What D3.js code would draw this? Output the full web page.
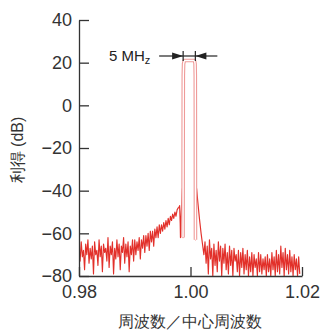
<!DOCTYPE html>
<html>
<head>
<meta charset="utf-8">
<script src="https://cdn.jsdelivr.net/npm/d3@7"></script>
<style>
  html, body { margin: 0; padding: 0; background: #fff; }
  svg { display: block; font-family: "Liberation Sans", Arial, sans-serif; }
  .axis path, .axis line { stroke: #333; stroke-width: 1.3; }
  .axis text { fill: #333; font-size: 18px; font-family: "Liberation Sans", Arial, sans-serif; }
</style>
</head>
<body>
<svg id="svg" width="322" height="331"></svg>
<script>
// sampling grid of the noise parts
const freqStep = 0.0002;
const leftStart = 0.9800;
const rightStart = 1.0026;

// gain (dB) below the band, 0.9800 .. 0.9978
const leftNoise = [
  -66,-73,-64,-71,-68,-77,-65,-70,-63,-74,
  -67,-72,-66,-79,-64,-70,-68,-75,-63,-71,
  -66,-78,-65,-69,-67,-73,-62,-76,-66,-70,
  -64,-79,-67,-72,-63,-71,-65,-77,-66,-69,
  -62,-74,-65,-71,-64,-78,-66,-70,-63,-73,
  -63,-70,-64,-68,-62,-72,-63,-67,-61,-69,
  -61,-66,-60,-68,-59,-64,-59,-66,-58,-62,
  -57,-62,-56,-60,-56,-59,-55,-58,-54,-57,
  -53,-56,-52,-54,-51,-53,-50,-52,-49,-48
];

// spur just below the band [freq, dB]
const leftSpur = [
  [0.9979, -48], [0.99805, -47], [0.99815, -55], [0.9982, -62],
  [0.99835, -50], [0.99855, -39], [0.9986, -44], [0.99866, -40]
];

// passband (5 MHz wide) [freq, dB]
const passband = [
  [0.99866, -62], [0.99868, -30], [0.9987, 0], [0.99871, 14],
  [0.99876, 19.5], [0.9989, 21], [0.9995, 21], [1.0000, 21], [1.0005, 21],
  [1.00071, 21], [1.00082, 19.5], [1.00086, 14], [1.00087, 0],
  [1.00088, -30], [1.00089, -63]
];

// spur just above the band [freq, dB]
const rightSpur = [
  [1.0009, -62], [1.0010, -50], [1.0011, -39], [1.0013, -45],
  [1.0016, -53], [1.0019, -60], [1.0022, -66], [1.0024, -70]
];

// gain (dB) above the band, 1.0026 .. 1.0196
const rightNoise = [
  -64,-74,-66,-79,-63,-72,-67,-80,-65,-75,
  -68,-78,-64,-73,-66,-80,-67,-74,-65,-77,
  -69,-79,-66,-75,-68,-80,-67,-73,-70,-78,
  -68,-80,-69,-76,-67,-79,-70,-77,-68,-80,
  -71,-78,-69,-80,-70,-76,-72,-80,-69,-78,
  -70,-79,-72,-77,-71,-80,-70,-78,-72,-80,
  -69,-77,-71,-80,-68,-78,-70,-79,-66,-76,
  -69,-80,-67,-77,-70,-79,-68,-78,-71,-80,
  -70,-77,-72,-80,-71,-79
];

const xTicks = [0.98, 1.00, 1.02];
const yTicks = [40, 20, 0, -20, -40, -60, -80];
const bandEdges = [0.99868, 1.00087];

const svg = d3.select('#svg');

const x = d3.scaleLinear().domain([0.98, 1.02]).range([79, 302]);
const y = d3.scaleLinear().domain([-80, 40]).range([276, 20]);

// whole trace in order
const trace = []
  .concat(leftNoise.map((v, i) => [leftStart + i * freqStep, v]))
  .concat(leftSpur)
  .concat(passband)
  .concat(rightSpur)
  .concat(rightNoise.map((v, i) => [rightStart + i * freqStep, v]));

svg.append('defs').append('clipPath').attr('id', 'plot')
  .append('rect').attr('x', 79).attr('y', 0).attr('width', 223).attr('height', 276);

const line = d3.line().x(d => x(d[0])).y(d => y(d[1]));

const g = svg.append('g').attr('clip-path', 'url(#plot)');

g.append('path')
  .datum(trace)
  .attr('d', line)
  .attr('fill', 'none')
  .attr('stroke', '#e2302a')
  .attr('stroke-width', 1.15)
  .attr('stroke-linejoin', 'round');

// passband drawn as a thin pink tube
g.append('path')
  .datum(passband)
  .attr('d', line)
  .attr('fill', 'none')
  .attr('stroke', '#ef9a98')
  .attr('stroke-width', 3.6)
  .attr('stroke-linejoin', 'round');
g.append('path')
  .datum(passband)
  .attr('d', line)
  .attr('fill', 'none')
  .attr('stroke', '#fff')
  .attr('stroke-width', 1.4)
  .attr('stroke-linejoin', 'round');

// axes
svg.append('g')
  .attr('class', 'axis')
  .attr('transform', 'translate(79,0)')
  .call(d3.axisLeft(y).tickValues(yTicks).tickSize(-10).tickSizeOuter(0).tickPadding(7)
    .tickFormat(d => d < 0 ? '\u2212' + Math.abs(d) : d));

svg.append('g')
  .attr('class', 'axis')
  .attr('transform', 'translate(0,276)')
  .call(d3.axisBottom(x).tickValues(xTicks).tickSize(-9).tickSizeOuter(0).tickPadding(9)
    .tickFormat(d3.format('.2f')));

// axis titles
svg.append('text')
  .attr('transform', 'translate(23,150) rotate(-90)')
  .attr('text-anchor', 'middle')
  .style('font-size', '16px')
  .style('fill', '#333')
  .text('利得 (dB)');

svg.append('text')
  .attr('x', 190)
  .attr('y', 327)
  .attr('text-anchor', 'middle')
  .style('font-size', '15.5px')
  .style('fill', '#333')
  .text('周波数／中心周波数');

// 5 MHz bandwidth marker
const ay = 56;
const xa = x(bandEdges[0]), xb = x(bandEdges[1]);
const ann = svg.append('g').attr('stroke', '#222').attr('fill', '#222');

const label = svg.append('text')
  .attr('x', 109).attr('y', 61)
  .style('font-size', '15px')
  .style('fill', '#222');
label.append('tspan').text('5 MH');
label.append('tspan').attr('dy', 2.5).style('font-size', '11px').text('z');

ann.append('line').attr('x1', xa - 24).attr('x2', xa).attr('y1', ay).attr('y2', ay).attr('stroke-width', 1.2);
ann.append('line').attr('x1', xa).attr('x2', xb).attr('y1', ay).attr('y2', ay).attr('stroke-width', 1.2);
ann.append('line').attr('x1', xb).attr('x2', xb + 22).attr('y1', ay).attr('y2', ay).attr('stroke-width', 1.2);
ann.append('line').attr('x1', xa).attr('x2', xa).attr('y1', ay - 5).attr('y2', ay + 5).attr('stroke-width', 1.2);
ann.append('line').attr('x1', xb).attr('x2', xb).attr('y1', ay - 5).attr('y2', ay + 5).attr('stroke-width', 1.2);
ann.append('path').attr('stroke', 'none')
  .attr('d', `M${xa},${ay} L${xa - 11},${ay - 3.5} L${xa - 11},${ay + 3.5} Z`);
ann.append('path').attr('stroke', 'none')
  .attr('d', `M${xb},${ay} L${xb + 11},${ay - 3.5} L${xb + 11},${ay + 3.5} Z`);
</script>
</body>
</html>
